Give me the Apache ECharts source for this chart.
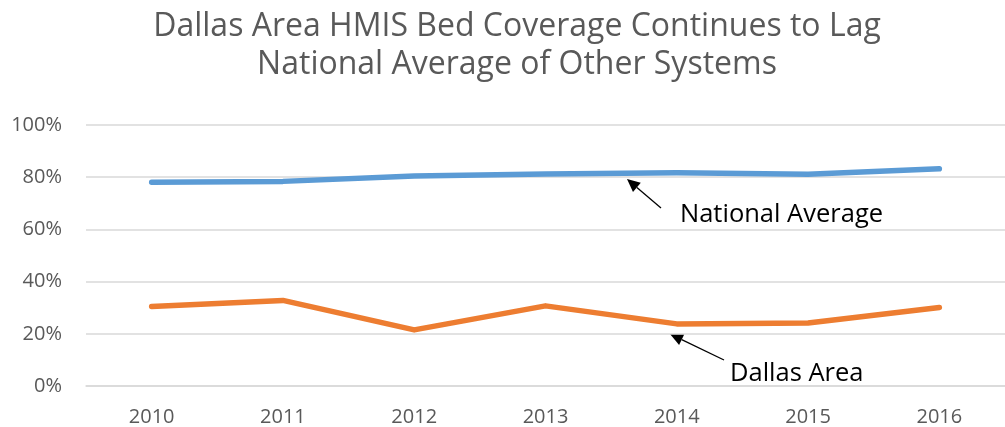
<!DOCTYPE html>
<html>
<head>
<meta charset="utf-8">
<script src="https://cdn.jsdelivr.net/npm/echarts@6/dist/echarts.min.js"></script>
<style>html,body{margin:0;padding:0;background:#fff}#c{width:1005px;height:427px}</style>
</head>
<body>
<div id="c"></div>
<script>
var years = ['2010', '2011', '2012', '2013', '2014', '2015', '2016'];
var nationalAverage = [78.1, 78.4, 80.5, 81.2, 81.7, 81.1, 83.2];
var dallasArea = [30.5, 32.8, 21.5, 30.7, 23.8, 24.1, 30.1];
var yTicks = [0, 20, 40, 60, 80, 100];
var titleLines = ['Dallas Area HMIS Bed Coverage Continues to Lag', 'National Average of Other Systems'];

var FONT = '"Open Sans", "Liberation Sans", sans-serif';

function arrow(x1, y1, x2, y2) {
  var dx = x2 - x1, dy = y2 - y1, len = Math.sqrt(dx * dx + dy * dy);
  var ux = dx / len, uy = dy / len;
  var hl = 13, hw = 6;
  var bx = x2 - ux * hl, by = y2 - uy * hl;
  var px = -uy, py = ux;
  return [
    { type: 'line', shape: { x1: x1, y1: y1, x2: bx, y2: by }, style: { stroke: '#000', lineWidth: 1.3 } },
    { type: 'polygon', shape: { points: [[x2, y2], [bx + px * hw, by + py * hw], [bx - px * hw, by - py * hw]] }, style: { fill: '#000' } }
  ];
}

var chart = echarts.init(document.getElementById('c'), null, { renderer: 'canvas' });
chart.setOption({
  animation: false,
  backgroundColor: '#fff',
  grid: { left: 86, top: 125, width: 926, height: 261, containLabel: false },
  xAxis: {
    type: 'category',
    data: years,
    boundaryGap: true,
    axisLine: { show: true, lineStyle: { color: '#d9d9d9', width: 1.5 } },
    axisTick: { show: false },
    axisLabel: { margin: 21, fontFamily: FONT, fontSize: 20, color: '#595959' }
  },
  yAxis: {
    type: 'value',
    min: yTicks[0],
    max: yTicks[yTicks.length - 1],
    interval: yTicks[1] - yTicks[0],
    axisLine: { show: false },
    axisTick: { show: false },
    splitLine: { lineStyle: { color: '#d9d9d9', width: 1.5 } },
    axisLabel: { margin: 24, fontFamily: FONT, fontSize: 20, color: '#595959', formatter: '{value}%' }
  },
  series: [
    {
      name: 'National Average', type: 'line', data: nationalAverage,
      symbol: 'none', lineStyle: { color: '#5B9BD5', width: 5.5, cap: 'round', join: 'round' }
    },
    {
      name: 'Dallas Area', type: 'line', data: dallasArea,
      symbol: 'none', lineStyle: { color: '#ED7D31', width: 5.5, cap: 'round', join: 'round' }
    }
  ],
  graphic: [].concat(
    [
      { type: 'text', x: 517, y: 27, style: { text: titleLines[0], font: '32px ' + FONT, fill: '#595959', textAlign: 'center', textVerticalAlign: 'middle' } },
      { type: 'text', x: 517, y: 65, style: { text: titleLines[1], font: '32px ' + FONT, fill: '#595959', textAlign: 'center', textVerticalAlign: 'middle' } }
    ],
    arrow(661, 208, 627, 179),
    arrow(724, 360, 670, 334),
    [
      { type: 'text', x: 680, y: 215, style: { text: 'National Average', font: '25.5px ' + FONT, fill: '#000', textVerticalAlign: 'middle' } },
      { type: 'text', x: 730, y: 374, style: { text: 'Dallas Area', font: '25.5px ' + FONT, fill: '#000', textVerticalAlign: 'middle' } }
    ]
  )
});
</script>
</body>
</html>
